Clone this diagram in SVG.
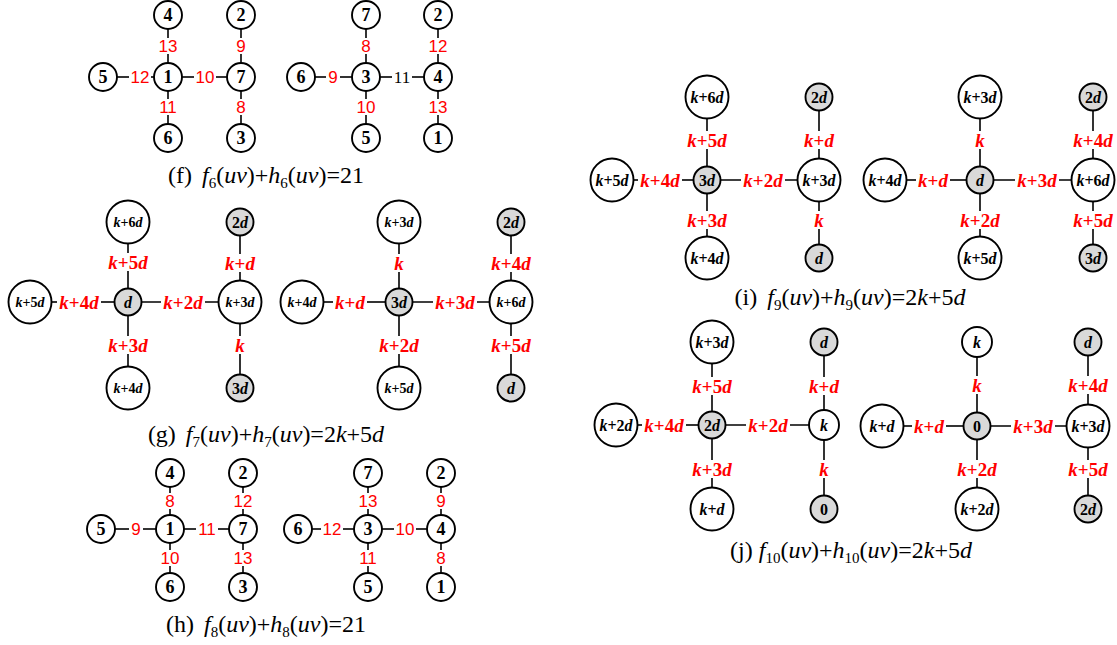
<svg xmlns="http://www.w3.org/2000/svg" width="1117" height="645" viewBox="0 0 1117 645">
<style>
.e line{stroke:#000;stroke-width:1.6}
circle{stroke:#000;stroke-width:1.9}
circle.w{fill:#fff}
circle.g{fill:#d9d9d9}
text{text-anchor:middle;dominant-baseline:central}
.num{font-family:"Liberation Serif",serif;font-weight:bold;font-size:18px}
.rn{font-family:"Liberation Sans",sans-serif;font-size:17px;fill:#f00}
.bn{font-family:"Liberation Serif",serif;font-size:17px;fill:#000}
.rk{font-family:"Liberation Serif",serif;font-weight:bold;font-size:19px;fill:#f00}
.ks{font-family:"Liberation Serif",serif;font-weight:bold;font-size:14px}
.km{font-family:"Liberation Serif",serif;font-weight:bold;font-size:16px}
.gl{font-family:"Liberation Serif",serif;font-weight:bold;font-size:16px}
.it{font-style:italic}
.cap{font-family:"Liberation Serif",serif;font-size:24px;dominant-baseline:auto}
.sb{font-size:15px}
</style>
<rect width="1117" height="645" fill="#fff"/>

<g id="connectors" class="e">
<!-- (f) left -->
<line x1="168" y1="15" x2="168" y2="38"/><line x1="168" y1="54" x2="168" y2="77"/>
<line x1="241" y1="15" x2="241" y2="38"/><line x1="241" y1="54" x2="241" y2="77"/>
<line x1="168" y1="77" x2="168" y2="99"/><line x1="168" y1="115" x2="168" y2="138"/>
<line x1="241" y1="77" x2="241" y2="99"/><line x1="241" y1="115" x2="241" y2="138"/>
<line x1="103" y1="77" x2="129" y2="77"/><line x1="151" y1="77" x2="168" y2="77"/>
<line x1="168" y1="77" x2="194" y2="77"/><line x1="216" y1="77" x2="241" y2="77"/>
<!-- (f) right -->
<line x1="366" y1="15" x2="366" y2="38"/><line x1="366" y1="54" x2="366" y2="77"/>
<line x1="438" y1="15" x2="438" y2="38"/><line x1="438" y1="54" x2="438" y2="77"/>
<line x1="366" y1="77" x2="366" y2="99"/><line x1="366" y1="115" x2="366" y2="138"/>
<line x1="438" y1="77" x2="438" y2="99"/><line x1="438" y1="115" x2="438" y2="138"/>
<line x1="301" y1="77" x2="326" y2="77"/><line x1="340" y1="77" x2="366" y2="77"/>
<line x1="366" y1="77" x2="392" y2="77"/><line x1="412" y1="77" x2="438" y2="77"/>
<!-- (g) left -->
<line x1="128" y1="222" x2="128" y2="253"/><line x1="128" y1="271" x2="128" y2="302"/>
<line x1="240" y1="222" x2="240" y2="254"/><line x1="240" y1="272" x2="240" y2="302"/>
<line x1="128" y1="302" x2="128" y2="336"/><line x1="128" y1="354" x2="128" y2="388"/>
<line x1="240" y1="302" x2="240" y2="336"/><line x1="240" y1="354" x2="240" y2="388"/>
<line x1="30" y1="302" x2="57" y2="302"/><line x1="101" y1="302" x2="128" y2="302"/>
<line x1="128" y1="302" x2="161" y2="302"/><line x1="205" y1="302" x2="240" y2="302"/>
<!-- (g) right -->
<line x1="399" y1="222" x2="399" y2="254"/><line x1="399" y1="272" x2="399" y2="302"/>
<line x1="511" y1="222" x2="511" y2="254"/><line x1="511" y1="272" x2="511" y2="302"/>
<line x1="399" y1="302" x2="399" y2="336"/><line x1="399" y1="354" x2="399" y2="388"/>
<line x1="511" y1="302" x2="511" y2="336"/><line x1="511" y1="354" x2="511" y2="388"/>
<line x1="302" y1="302" x2="333" y2="302"/><line x1="367" y1="302" x2="399" y2="302"/>
<line x1="399" y1="302" x2="433" y2="302"/><line x1="477" y1="302" x2="511" y2="302"/>
<!-- (h) left -->
<line x1="170" y1="473" x2="170" y2="493"/><line x1="170" y1="509" x2="170" y2="529"/>
<line x1="243" y1="473" x2="243" y2="493"/><line x1="243" y1="509" x2="243" y2="529"/>
<line x1="170" y1="529" x2="170" y2="550"/><line x1="170" y1="566" x2="170" y2="587"/>
<line x1="243" y1="529" x2="243" y2="550"/><line x1="243" y1="566" x2="243" y2="587"/>
<line x1="101" y1="529" x2="129" y2="529"/><line x1="143" y1="529" x2="170" y2="529"/>
<line x1="170" y1="529" x2="196" y2="529"/><line x1="218" y1="529" x2="243" y2="529"/>
<!-- (h) right -->
<line x1="368" y1="473" x2="368" y2="493"/><line x1="368" y1="509" x2="368" y2="529"/>
<line x1="441" y1="473" x2="441" y2="493"/><line x1="441" y1="509" x2="441" y2="529"/>
<line x1="368" y1="529" x2="368" y2="550"/><line x1="368" y1="566" x2="368" y2="587"/>
<line x1="441" y1="529" x2="441" y2="550"/><line x1="441" y1="566" x2="441" y2="587"/>
<line x1="298" y1="529" x2="321" y2="529"/><line x1="343" y1="529" x2="368" y2="529"/>
<line x1="368" y1="529" x2="394" y2="529"/><line x1="416" y1="529" x2="441" y2="529"/>
<!-- (i) left -->
<line x1="707" y1="97" x2="707" y2="131"/><line x1="707" y1="149" x2="707" y2="180"/>
<line x1="819" y1="97" x2="819" y2="131"/><line x1="819" y1="149" x2="819" y2="180"/>
<line x1="707" y1="180" x2="707" y2="211"/><line x1="707" y1="229" x2="707" y2="258"/>
<line x1="819" y1="180" x2="819" y2="211"/><line x1="819" y1="229" x2="819" y2="258"/>
<line x1="612" y1="180" x2="638" y2="180"/><line x1="682" y1="180" x2="707" y2="180"/>
<line x1="707" y1="180" x2="741" y2="180"/><line x1="785" y1="180" x2="819" y2="180"/>
<!-- (i) right -->
<line x1="980" y1="97" x2="980" y2="131"/><line x1="980" y1="149" x2="980" y2="180"/>
<line x1="1093" y1="97" x2="1093" y2="131"/><line x1="1093" y1="149" x2="1093" y2="180"/>
<line x1="980" y1="180" x2="980" y2="211"/><line x1="980" y1="229" x2="980" y2="258"/>
<line x1="1093" y1="180" x2="1093" y2="211"/><line x1="1093" y1="229" x2="1093" y2="258"/>
<line x1="885" y1="180" x2="916" y2="180"/><line x1="950" y1="180" x2="980" y2="180"/>
<line x1="980" y1="180" x2="1015" y2="180"/><line x1="1059" y1="180" x2="1093" y2="180"/>
<!-- (j) left -->
<line x1="712" y1="342" x2="712" y2="377"/><line x1="712" y1="395" x2="712" y2="425"/>
<line x1="824" y1="342" x2="824" y2="377"/><line x1="824" y1="395" x2="824" y2="425"/>
<line x1="712" y1="425" x2="712" y2="460"/><line x1="712" y1="478" x2="712" y2="509"/>
<line x1="824" y1="425" x2="824" y2="460"/><line x1="824" y1="478" x2="824" y2="509"/>
<line x1="616" y1="425" x2="642" y2="425"/><line x1="686" y1="425" x2="712" y2="425"/>
<line x1="712" y1="425" x2="746" y2="425"/><line x1="790" y1="425" x2="824" y2="425"/>
<!-- (j) right -->
<line x1="977" y1="342" x2="977" y2="376"/><line x1="977" y1="394" x2="977" y2="426"/>
<line x1="1088" y1="342" x2="1088" y2="376"/><line x1="1088" y1="394" x2="1088" y2="426"/>
<line x1="977" y1="426" x2="977" y2="460"/><line x1="977" y1="478" x2="977" y2="509"/>
<line x1="1088" y1="426" x2="1088" y2="460"/><line x1="1088" y1="478" x2="1088" y2="509"/>
<line x1="882" y1="426" x2="912" y2="426"/><line x1="946" y1="426" x2="977" y2="426"/>
<line x1="977" y1="426" x2="1011" y2="426"/><line x1="1055" y1="426" x2="1088" y2="426"/>

<!-- edge labels -->
<text class="rn" x="168" y="46">13</text><text class="rn" x="241" y="46">9</text>
<text class="rn" x="140" y="77">12</text><text class="rn" x="205" y="77">10</text>
<text class="rn" x="168" y="107">11</text><text class="rn" x="241" y="107">8</text>
<text class="rn" x="366" y="46">8</text><text class="rn" x="438" y="46">12</text>
<text class="rn" x="333" y="77">9</text><text class="bn" x="402" y="77">11</text>
<text class="rn" x="366" y="107">10</text><text class="rn" x="438" y="107">13</text>

<text class="rn" x="170" y="501">8</text><text class="rn" x="243" y="501">12</text>
<text class="rn" x="136" y="529">9</text><text class="rn" x="207" y="529">11</text>
<text class="rn" x="170" y="558">10</text><text class="rn" x="243" y="558">13</text>
<text class="rn" x="368" y="501">13</text><text class="rn" x="441" y="501">9</text>
<text class="rn" x="332" y="529">12</text><text class="rn" x="405" y="529">10</text>
<text class="rn" x="368" y="558">11</text><text class="rn" x="441" y="558">8</text>

<text class="rk" x="128" y="262"><tspan class="it">k</tspan>+5<tspan class="it">d</tspan></text>
<text class="rk" x="240" y="263"><tspan class="it">k</tspan>+<tspan class="it">d</tspan></text>
<text class="rk" x="79" y="302"><tspan class="it">k</tspan>+4<tspan class="it">d</tspan></text>
<text class="rk" x="183" y="302"><tspan class="it">k</tspan>+2<tspan class="it">d</tspan></text>
<text class="rk" x="128" y="345"><tspan class="it">k</tspan>+3<tspan class="it">d</tspan></text>
<text class="rk it" x="240" y="345">k</text>

<text class="rk it" x="399" y="263">k</text>
<text class="rk" x="511" y="263"><tspan class="it">k</tspan>+4<tspan class="it">d</tspan></text>
<text class="rk" x="350" y="302"><tspan class="it">k</tspan>+<tspan class="it">d</tspan></text>
<text class="rk" x="455" y="302"><tspan class="it">k</tspan>+3<tspan class="it">d</tspan></text>
<text class="rk" x="399" y="345"><tspan class="it">k</tspan>+2<tspan class="it">d</tspan></text>
<text class="rk" x="511" y="345"><tspan class="it">k</tspan>+5<tspan class="it">d</tspan></text>

<text class="rk" x="707" y="140"><tspan class="it">k</tspan>+5<tspan class="it">d</tspan></text>
<text class="rk" x="819" y="140"><tspan class="it">k</tspan>+<tspan class="it">d</tspan></text>
<text class="rk" x="660" y="180"><tspan class="it">k</tspan>+4<tspan class="it">d</tspan></text>
<text class="rk" x="763" y="180"><tspan class="it">k</tspan>+2<tspan class="it">d</tspan></text>
<text class="rk" x="707" y="220"><tspan class="it">k</tspan>+3<tspan class="it">d</tspan></text>
<text class="rk it" x="819" y="220">k</text>

<text class="rk it" x="980" y="140">k</text>
<text class="rk" x="1093" y="140"><tspan class="it">k</tspan>+4<tspan class="it">d</tspan></text>
<text class="rk" x="933" y="180"><tspan class="it">k</tspan>+<tspan class="it">d</tspan></text>
<text class="rk" x="1037" y="180"><tspan class="it">k</tspan>+3<tspan class="it">d</tspan></text>
<text class="rk" x="980" y="220"><tspan class="it">k</tspan>+2<tspan class="it">d</tspan></text>
<text class="rk" x="1093" y="220"><tspan class="it">k</tspan>+5<tspan class="it">d</tspan></text>

<text class="rk" x="712" y="386"><tspan class="it">k</tspan>+5<tspan class="it">d</tspan></text>
<text class="rk" x="824" y="386"><tspan class="it">k</tspan>+<tspan class="it">d</tspan></text>
<text class="rk" x="664" y="425"><tspan class="it">k</tspan>+4<tspan class="it">d</tspan></text>
<text class="rk" x="768" y="425"><tspan class="it">k</tspan>+2<tspan class="it">d</tspan></text>
<text class="rk" x="712" y="469"><tspan class="it">k</tspan>+3<tspan class="it">d</tspan></text>
<text class="rk it" x="824" y="469">k</text>

<text class="rk it" x="977" y="385">k</text>
<text class="rk" x="1088" y="385"><tspan class="it">k</tspan>+4<tspan class="it">d</tspan></text>
<text class="rk" x="929" y="426"><tspan class="it">k</tspan>+<tspan class="it">d</tspan></text>
<text class="rk" x="1033" y="426"><tspan class="it">k</tspan>+3<tspan class="it">d</tspan></text>
<text class="rk" x="977" y="469"><tspan class="it">k</tspan>+2<tspan class="it">d</tspan></text>
<text class="rk" x="1088" y="469"><tspan class="it">k</tspan>+5<tspan class="it">d</tspan></text>
</g>

<!-- (f) nodes -->
<g id="f-L-4"><circle class="w" cx="168" cy="15" r="14"/><text class="num" x="168" y="15">4</text></g>
<g id="f-L-2"><circle class="w" cx="241" cy="15" r="14"/><text class="num" x="241" y="15">2</text></g>
<g id="f-L-5"><circle class="w" cx="103" cy="77" r="14"/><text class="num" x="103" y="77">5</text></g>
<g id="f-L-1"><circle class="w" cx="168" cy="77" r="14"/><text class="num" x="168" y="77">1</text></g>
<g id="f-L-7"><circle class="w" cx="241" cy="77" r="14"/><text class="num" x="241" y="77">7</text></g>
<g id="f-L-6"><circle class="w" cx="168" cy="138" r="14"/><text class="num" x="168" y="138">6</text></g>
<g id="f-L-3"><circle class="w" cx="241" cy="138" r="14"/><text class="num" x="241" y="138">3</text></g>
<g id="f-R-7"><circle class="w" cx="366" cy="15" r="14"/><text class="num" x="366" y="15">7</text></g>
<g id="f-R-2"><circle class="w" cx="438" cy="15" r="14"/><text class="num" x="438" y="15">2</text></g>
<g id="f-R-6"><circle class="w" cx="301" cy="77" r="14"/><text class="num" x="301" y="77">6</text></g>
<g id="f-R-3"><circle class="w" cx="366" cy="77" r="14"/><text class="num" x="366" y="77">3</text></g>
<g id="f-R-4"><circle class="w" cx="438" cy="77" r="14"/><text class="num" x="438" y="77">4</text></g>
<g id="f-R-5"><circle class="w" cx="366" cy="138" r="14"/><text class="num" x="366" y="138">5</text></g>
<g id="f-R-1"><circle class="w" cx="438" cy="138" r="14"/><text class="num" x="438" y="138">1</text></g>

<!-- (h) nodes -->
<g id="h-L-4"><circle class="w" cx="170" cy="473" r="14"/><text class="num" x="170" y="473">4</text></g>
<g id="h-L-2"><circle class="w" cx="243" cy="473" r="14"/><text class="num" x="243" y="473">2</text></g>
<g id="h-L-5"><circle class="w" cx="101" cy="529" r="14"/><text class="num" x="101" y="529">5</text></g>
<g id="h-L-1"><circle class="w" cx="170" cy="529" r="14"/><text class="num" x="170" y="529">1</text></g>
<g id="h-L-7"><circle class="w" cx="243" cy="529" r="14"/><text class="num" x="243" y="529">7</text></g>
<g id="h-L-6"><circle class="w" cx="170" cy="587" r="14"/><text class="num" x="170" y="587">6</text></g>
<g id="h-L-3"><circle class="w" cx="243" cy="587" r="14"/><text class="num" x="243" y="587">3</text></g>
<g id="h-R-7"><circle class="w" cx="368" cy="473" r="14"/><text class="num" x="368" y="473">7</text></g>
<g id="h-R-2"><circle class="w" cx="441" cy="473" r="14"/><text class="num" x="441" y="473">2</text></g>
<g id="h-R-6"><circle class="w" cx="298" cy="529" r="14"/><text class="num" x="298" y="529">6</text></g>
<g id="h-R-3"><circle class="w" cx="368" cy="529" r="14"/><text class="num" x="368" y="529">3</text></g>
<g id="h-R-4"><circle class="w" cx="441" cy="529" r="14"/><text class="num" x="441" y="529">4</text></g>
<g id="h-R-5"><circle class="w" cx="368" cy="587" r="14"/><text class="num" x="368" y="587">5</text></g>
<g id="h-R-1"><circle class="w" cx="441" cy="587" r="14"/><text class="num" x="441" y="587">1</text></g>

<!-- (g) nodes -->
<g id="g-L-a"><circle class="w" cx="128" cy="222" r="21.5"/><text class="ks" x="128" y="222"><tspan class="it">k</tspan>+6<tspan class="it">d</tspan></text></g>
<g id="g-L-b"><circle class="g" cx="240" cy="222" r="13.5"/><text class="gl" x="240" y="222">2<tspan class="it">d</tspan></text></g>
<g id="g-L-c"><circle class="w" cx="30" cy="302" r="21.5"/><text class="ks" x="30" y="302"><tspan class="it">k</tspan>+5<tspan class="it">d</tspan></text></g>
<g id="g-L-d"><circle class="g" cx="128" cy="302" r="13.5"/><text class="gl it" x="128" y="302">d</text></g>
<g id="g-L-e"><circle class="w" cx="240" cy="302" r="21.5"/><text class="ks" x="240" y="302"><tspan class="it">k</tspan>+3<tspan class="it">d</tspan></text></g>
<g id="g-L-f"><circle class="w" cx="128" cy="388" r="21.5"/><text class="ks" x="128" y="388"><tspan class="it">k</tspan>+4<tspan class="it">d</tspan></text></g>
<g id="g-L-g"><circle class="g" cx="240" cy="388" r="13.5"/><text class="gl" x="240" y="388">3<tspan class="it">d</tspan></text></g>
<g id="g-R-a"><circle class="w" cx="399" cy="222" r="21.5"/><text class="ks" x="399" y="222"><tspan class="it">k</tspan>+3<tspan class="it">d</tspan></text></g>
<g id="g-R-b"><circle class="g" cx="511" cy="222" r="13.5"/><text class="gl" x="511" y="222">2<tspan class="it">d</tspan></text></g>
<g id="g-R-c"><circle class="w" cx="302" cy="302" r="21.5"/><text class="ks" x="302" y="302"><tspan class="it">k</tspan>+4<tspan class="it">d</tspan></text></g>
<g id="g-R-d"><circle class="g" cx="399" cy="302" r="13.5"/><text class="gl" x="399" y="302">3<tspan class="it">d</tspan></text></g>
<g id="g-R-e"><circle class="w" cx="511" cy="302" r="21.5"/><text class="ks" x="511" y="302"><tspan class="it">k</tspan>+6<tspan class="it">d</tspan></text></g>
<g id="g-R-f"><circle class="w" cx="399" cy="388" r="21.5"/><text class="ks" x="399" y="388"><tspan class="it">k</tspan>+5<tspan class="it">d</tspan></text></g>
<g id="g-R-g"><circle class="g" cx="511" cy="388" r="13.5"/><text class="gl it" x="511" y="388">d</text></g>

<!-- (i) nodes -->
<g id="i-L-a"><circle class="w" cx="707" cy="97" r="21.5"/><text class="km" x="707" y="97"><tspan class="it">k</tspan>+6<tspan class="it">d</tspan></text></g>
<g id="i-L-b"><circle class="g" cx="819" cy="97" r="13.5"/><text class="gl" x="819" y="97">2<tspan class="it">d</tspan></text></g>
<g id="i-L-c"><circle class="w" cx="612" cy="180" r="21.5"/><text class="km" x="612" y="180"><tspan class="it">k</tspan>+5<tspan class="it">d</tspan></text></g>
<g id="i-L-d"><circle class="g" cx="707" cy="180" r="13.5"/><text class="gl" x="707" y="180">3<tspan class="it">d</tspan></text></g>
<g id="i-L-e"><circle class="w" cx="819" cy="180" r="21.5"/><text class="km" x="819" y="180"><tspan class="it">k</tspan>+3<tspan class="it">d</tspan></text></g>
<g id="i-L-f"><circle class="w" cx="707" cy="258" r="21.5"/><text class="km" x="707" y="258"><tspan class="it">k</tspan>+4<tspan class="it">d</tspan></text></g>
<g id="i-L-g"><circle class="g" cx="819" cy="258" r="13.5"/><text class="gl it" x="819" y="258">d</text></g>
<g id="i-R-a"><circle class="w" cx="980" cy="97" r="21.5"/><text class="km" x="980" y="97"><tspan class="it">k</tspan>+3<tspan class="it">d</tspan></text></g>
<g id="i-R-b"><circle class="g" cx="1093" cy="97" r="13.5"/><text class="gl" x="1093" y="97">2<tspan class="it">d</tspan></text></g>
<g id="i-R-c"><circle class="w" cx="885" cy="180" r="21.5"/><text class="km" x="885" y="180"><tspan class="it">k</tspan>+4<tspan class="it">d</tspan></text></g>
<g id="i-R-d"><circle class="g" cx="980" cy="180" r="13.5"/><text class="gl it" x="980" y="180">d</text></g>
<g id="i-R-e"><circle class="w" cx="1093" cy="180" r="21.5"/><text class="km" x="1093" y="180"><tspan class="it">k</tspan>+6<tspan class="it">d</tspan></text></g>
<g id="i-R-f"><circle class="w" cx="980" cy="258" r="21.5"/><text class="km" x="980" y="258"><tspan class="it">k</tspan>+5<tspan class="it">d</tspan></text></g>
<g id="i-R-g"><circle class="g" cx="1093" cy="258" r="13.5"/><text class="gl" x="1093" y="258">3<tspan class="it">d</tspan></text></g>

<!-- (j) nodes -->
<g id="j-L-a"><circle class="w" cx="712" cy="342" r="21.5"/><text class="km" x="712" y="342"><tspan class="it">k</tspan>+3<tspan class="it">d</tspan></text></g>
<g id="j-L-b"><circle class="g" cx="824" cy="342" r="13.5"/><text class="gl it" x="824" y="342">d</text></g>
<g id="j-L-c"><circle class="w" cx="616" cy="425" r="21.5"/><text class="km" x="616" y="425"><tspan class="it">k</tspan>+2<tspan class="it">d</tspan></text></g>
<g id="j-L-d"><circle class="g" cx="712" cy="425" r="13.5"/><text class="gl" x="712" y="425">2<tspan class="it">d</tspan></text></g>
<g id="j-L-e"><circle class="w" cx="824" cy="425" r="15"/><text class="gl it" x="824" y="425" font-size="19">k</text></g>
<g id="j-L-f"><circle class="w" cx="712" cy="509" r="21.5"/><text class="km" x="712" y="509"><tspan class="it">k</tspan>+<tspan class="it">d</tspan></text></g>
<g id="j-L-g"><circle class="g" cx="824" cy="509" r="13.5"/><text class="gl" x="824" y="509">0</text></g>
<g id="j-R-a"><circle class="w" cx="977" cy="342" r="15"/><text class="gl it" x="977" y="342" font-size="19">k</text></g>
<g id="j-R-b"><circle class="g" cx="1088" cy="342" r="13.5"/><text class="gl it" x="1088" y="342">d</text></g>
<g id="j-R-c"><circle class="w" cx="882" cy="426" r="21.5"/><text class="km" x="882" y="426"><tspan class="it">k</tspan>+<tspan class="it">d</tspan></text></g>
<g id="j-R-d"><circle class="g" cx="977" cy="426" r="13.5"/><text class="gl" x="977" y="426">0</text></g>
<g id="j-R-e"><circle class="w" cx="1088" cy="426" r="21.5"/><text class="km" x="1088" y="426"><tspan class="it">k</tspan>+3<tspan class="it">d</tspan></text></g>
<g id="j-R-f"><circle class="w" cx="977" cy="509" r="21.5"/><text class="km" x="977" y="509"><tspan class="it">k</tspan>+2<tspan class="it">d</tspan></text></g>
<g id="j-R-g"><circle class="g" cx="1088" cy="509" r="13.5"/><text class="gl" x="1088" y="509">2<tspan class="it">d</tspan></text></g>

<!-- captions -->
<g id="captions">
<text class="cap" x="266" y="183">(f)<tspan dx="10" class="it">f</tspan><tspan class="sb" dy="5">6</tspan><tspan dy="-5">(</tspan><tspan class="it">uv</tspan>)+<tspan class="it">h</tspan><tspan class="sb" dy="5">6</tspan><tspan dy="-5">(</tspan><tspan class="it">uv</tspan>)=21</text>
<text class="cap" x="266" y="442">(g)<tspan dx="10" class="it">f</tspan><tspan class="sb" dy="5">7</tspan><tspan dy="-5">(</tspan><tspan class="it">uv</tspan>)+<tspan class="it">h</tspan><tspan class="sb" dy="5">7</tspan><tspan dy="-5">(</tspan><tspan class="it">uv</tspan>)=2<tspan class="it">k</tspan>+5<tspan class="it">d</tspan></text>
<text class="cap" x="266" y="632">(h)<tspan dx="10" class="it">f</tspan><tspan class="sb" dy="5">8</tspan><tspan dy="-5">(</tspan><tspan class="it">uv</tspan>)+<tspan class="it">h</tspan><tspan class="sb" dy="5">8</tspan><tspan dy="-5">(</tspan><tspan class="it">uv</tspan>)=21</text>
<text class="cap" x="850" y="305">(i)<tspan dx="10" class="it">f</tspan><tspan class="sb" dy="5">9</tspan><tspan dy="-5">(</tspan><tspan class="it">uv</tspan>)+<tspan class="it">h</tspan><tspan class="sb" dy="5">9</tspan><tspan dy="-5">(</tspan><tspan class="it">uv</tspan>)=2<tspan class="it">k</tspan>+5<tspan class="it">d</tspan></text>
<text class="cap" x="851" y="558">(j)<tspan dx="6" class="it">f</tspan><tspan class="sb" dy="5">10</tspan><tspan dy="-5">(</tspan><tspan class="it">uv</tspan>)+<tspan class="it">h</tspan><tspan class="sb" dy="5">10</tspan><tspan dy="-5">(</tspan><tspan class="it">uv</tspan>)=2<tspan class="it">k</tspan>+5<tspan class="it">d</tspan></text>
</g>
</svg>
